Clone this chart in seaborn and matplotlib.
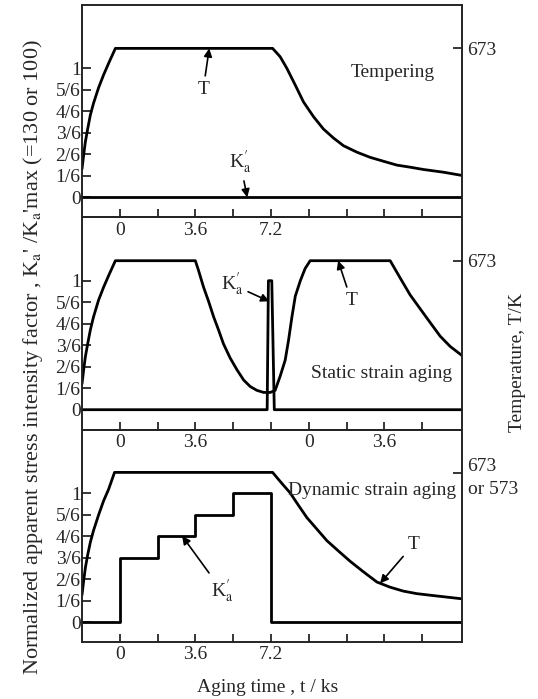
import numpy as np
import pandas as pd
import matplotlib
matplotlib.use("Agg")
import matplotlib.pyplot as plt
import seaborn as sns

# ---------------- data ----------------
tick_times = [0, 1.8, 3.6, 5.4, 7.2, 9.0, 10.8, 12.6, 14.4]
tick_labels_std = ["0", "", "3.6", "", "7.2", "", "", "", ""]
tick_labels_static = ["0", "", "3.6", "", "", "0", "", "3.6", ""]
k_ticks = [0, 1/6, 2/6, 3/6, 4/6, 5/6, 1]
k_tick_labels = ["0", "1/6", "2/6", "3/6", "4/6", "5/6", "1"]
T_level = 1.155
T_labels = ["673", "673", "673\nor 573"]
panel_titles = ["Tempering", "Static strain aging", "Dynamic strain aging"]

temper_t = [-1.8, -1.72, -1.64, -1.53, -1.40, -1.25, -1.01, -0.77, -0.53, -0.21,
            7.28, 7.64, 7.96, 8.36, 8.75, 9.23, 9.70, 10.18, 10.66, 11.30, 11.93,
            12.56, 13.2, 13.83, 14.47, 15.42, 16.3]
temper_T = [0.22, 0.33, 0.43, 0.53, 0.64, 0.73, 0.85, 0.95, 1.04, 1.155,
            1.155, 1.09, 1.00, 0.87, 0.74, 0.625, 0.53, 0.46, 0.40, 0.35, 0.31,
            0.28, 0.25, 0.234, 0.216, 0.195, 0.17]
temper_k_t = [-1.8, 16.3]
temper_k = [0, 0]

static_t = [-1.8, -1.72, -1.64, -1.53, -1.40, -1.25, -1.01, -0.77, -0.53, -0.21,
            3.6, 3.75, 3.99, 4.23, 4.47, 4.7, 4.94, 5.26, 5.58, 5.9, 6.21, 6.53, 6.85,
            7.17, 7.4, 7.64, 7.88, 8.04, 8.2, 8.36, 8.6, 8.83, 9.07,
            12.88, 13.36, 13.83, 14.23, 14.63, 15.26, 15.74, 16.3]
static_T = [0.20, 0.31, 0.41, 0.51, 0.62, 0.72, 0.85, 0.95, 1.04, 1.155,
            1.155, 1.08, 0.95, 0.84, 0.72, 0.62, 0.51, 0.40, 0.31, 0.23, 0.18, 0.15, 0.134,
            0.134, 0.15, 0.26, 0.385, 0.54, 0.72, 0.88, 1.0, 1.095, 1.155,
            1.155, 1.02, 0.89, 0.80, 0.71, 0.57, 0.49, 0.42]
static_k_t = [-1.8, 7.02, 7.08, 7.24, 7.36, 16.3]
static_k = [0, 0, 1, 1, 0, 0]

dynamic_t = [-1.8, -1.72, -1.64, -1.53, -1.40, -1.25, -1.01, -0.77, -0.53, -0.25,
             7.28, 7.64, 8.12, 8.51, 8.91, 9.39, 9.87, 10.42, 10.98, 11.6, 12.25,
             12.88, 13.5, 14.15, 14.94, 16.3]
dynamic_T = [0.21, 0.32, 0.42, 0.52, 0.62, 0.71, 0.83, 0.94, 1.03, 1.16,
             1.16, 1.09, 1.0, 0.905, 0.81, 0.72, 0.63, 0.55, 0.47, 0.39, 0.31,
             0.27, 0.24, 0.22, 0.205, 0.18]
dynamic_k_t = [-1.8, 0, 1.8, 3.6, 5.4, 7.2, 16.3]
dynamic_k = [0, 3/6, 4/6, 5/6, 1, 0, 0]

# annotations: (text, text position, arrow tip)
annots = [
    [("T", (3.98, 0.84), (4.26, 1.155)), ("K", (5.74, 0.27), (6.07, 0.0))],
    [("K", (5.36, 0.97), (7.12, 0.84)), ("T", (11.02, 0.85), (10.4, 1.155))],
    [("K", (4.88, 0.24), (2.97, 0.667)), ("T", (13.98, 0.60), (12.4, 0.30))],
]
title_pos = [(13.0, 0.97), (12.45, 0.28), (12.0, 1.02)]

# ---------------- style ----------------
sns.set_theme(style="ticks")
plt.rcParams["font.family"] = ["Liberation Serif", "DejaVu Serif"]
plt.rcParams["mathtext.fontset"] = "stix"
FS = 14
K_TXT = r"K$_\mathrm{a}^{\prime}$"

fig = plt.figure(figsize=(5.38, 6.99), dpi=100)
axes = fig.subplots(3, 1, gridspec_kw=dict(hspace=0))
fig.subplots_adjust(left=0.1524, right=0.8587, top=0.9928, bottom=0.0815)

series = [
    (temper_t, temper_T, temper_k_t, temper_k, "default"),
    (static_t, static_T, static_k_t, static_k, "default"),
    (dynamic_t, dynamic_T, dynamic_k_t, dynamic_k, "steps-post"),
]
xlabels = [tick_labels_std, tick_labels_static, tick_labels_std]
ylim = (-0.155, 1.491)

for i, ax in enumerate(axes):
    tt, TT, kt, kk, ds = series[i]
    ax.set_facecolor("none")
    dfT = pd.DataFrame({"t": tt, "v": TT})
    dfK = pd.DataFrame({"t": kt, "v": kk})
    sns.lineplot(data=dfT, x="t", y="v", ax=ax, color="black", lw=2.0,
                 sort=False, estimator=None)
    sns.lineplot(data=dfK, x="t", y="v", ax=ax, color="black", lw=2.0,
                 sort=False, estimator=None, drawstyle=ds)
    ax.set_xlim(-1.8, 16.3)
    ax.set_ylim(*ylim)
    ax.set_xlabel("")
    ax.set_ylabel("")
    ax.set_xticks(tick_times, xlabels[i])
    ax.set_yticks(k_ticks, k_tick_labels)
    ax.tick_params(axis="x", direction="in", length=6, width=1.1, labelsize=FS,
                   pad=3, color="black")
    ax.tick_params(axis="y", direction="in", length=6.5, width=1.1, labelsize=FS,
                   pad=1, color="black")
    for s in ax.spines.values():
        s.set_linewidth(1.1)
        s.set_color("black")
    ax2 = ax.twinx()
    ax2.set_ylim(*ylim)
    ax2.set_yticks([T_level], [T_labels[i]])
    ax2.tick_params(axis="y", direction="in", length=6.5, width=1.1, labelsize=FS,
                    pad=4, color="black")
    for lab in ax2.get_yticklabels():
        lab.set_linespacing(1.45)
    for s in ax2.spines.values():
        s.set_linewidth(1.1)
    ax.text(title_pos[i][0], title_pos[i][1], panel_titles[i], fontsize=FS,
            ha="center", va="center")
    for txt, xyt, xy in annots[i]:
        label = K_TXT if txt == "K" else txt
        ax.annotate(label, xy=xy, xytext=xyt, fontsize=FS, ha="center", va="center",
                    arrowprops=dict(arrowstyle="-|>", color="black", lw=1.2,
                                    mutation_scale=12, shrinkA=1, shrinkB=0))

fig.text(268 / 538, 1 - 687 / 699, "Aging time , t / ks", fontsize=FS,
         ha="center", va="center")
fig.text(33 / 538, 1 - 357 / 699,
         r"Normalized apparent stress intensity factor , K$_\mathrm{a}$' /K$_\mathrm{a}$'max (=130 or 100)",
         fontsize=16, rotation=90, ha="center", va="center")
fig.text(517 / 538, 1 - 363 / 699, "Temperature, T/K", fontsize=FS, rotation=90,
         ha="center", va="center")

fig.savefig("out.png", dpi=100)
